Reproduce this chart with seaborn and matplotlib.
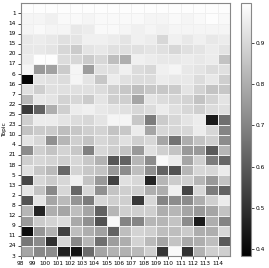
import numpy as np
import pandas as pd
import seaborn as sns
import matplotlib
matplotlib.use("Agg")
import matplotlib.pyplot as plt

# topic labels top to bottom, columns left to right
topics = ['1', '14', '19', '15', '20', '17', '6', '16', '7', '22', '25', '23', '10',
          '4', '21', '18', '5', '13', '2', '8', '12', '9', '11', '24', '3']
cols = ['98', '99', '100', '101', '102', '103', '104', '105', '106', '107', '108',
        '109', '110', '111', '112', '113', '114']

vals = [
    [0.99, 0.99, 0.99, 0.99, 0.99, 0.99, 0.99, 0.99, 0.99, 0.99, 0.99, 0.99, 0.99, 0.99, 0.99, 0.99, 0.99],
    [0.97, 0.97, 0.96, 0.98, 0.98, 0.97, 0.98, 0.98, 0.98, 0.98, 0.97, 0.97, 0.98, 0.97, 0.98, 0.99, 0.98],
    [0.97, 0.98, 0.97, 0.97, 0.94, 0.95, 0.98, 0.98, 0.97, 0.96, 0.97, 0.96, 0.97, 0.97, 0.97, 0.97, 0.97],
    [0.94, 0.95, 0.94, 0.92, 0.93, 0.96, 0.96, 0.95, 0.93, 0.96, 0.95, 0.90, 0.96, 0.94, 0.96, 0.94, 0.95],
    [0.94, 0.94, 0.93, 0.90, 0.87, 0.93, 0.94, 0.92, 0.92, 0.92, 0.93, 0.92, 0.90, 0.92, 0.93, 0.95, 0.93],
    [0.95, 0.99, 0.99, 0.91, 0.90, 0.87, 0.90, 0.84, 0.80, 0.96, 0.95, 0.94, 0.94, 0.95, 0.94, 0.95, 0.85],
    [0.97, 0.75, 0.77, 0.87, 0.97, 0.76, 0.92, 0.92, 0.96, 0.91, 0.90, 0.96, 0.97, 0.94, 0.93, 0.91, 0.92],
    [0.39, 0.93, 0.92, 0.91, 0.97, 0.93, 0.86, 0.95, 0.92, 0.91, 0.91, 0.95, 0.94, 0.94, 0.91, 0.94, 0.88],
    [0.92, 0.88, 0.92, 0.92, 0.92, 0.92, 0.91, 0.88, 0.86, 0.84, 0.86, 0.86, 0.87, 0.93, 0.89, 0.85, 0.86],
    [0.83, 0.94, 0.93, 0.89, 0.90, 0.87, 0.93, 0.88, 0.88, 0.78, 0.93, 0.91, 0.90, 0.89, 0.85, 0.89, 0.93],
    [0.52, 0.62, 0.80, 0.88, 0.95, 0.96, 0.94, 0.93, 0.92, 0.90, 0.91, 0.95, 0.92, 0.90, 0.88, 0.91, 0.92],
    [0.88, 0.95, 0.95, 0.93, 0.91, 0.90, 0.93, 0.97, 0.97, 0.86, 0.68, 0.87, 0.90, 0.93, 0.95, 0.45, 0.65],
    [0.85, 0.87, 0.87, 0.84, 0.86, 0.88, 0.89, 0.85, 0.86, 0.95, 0.78, 0.90, 0.90, 0.90, 0.95, 0.90, 0.70],
    [0.93, 0.90, 0.73, 0.82, 0.88, 0.85, 0.90, 0.88, 0.92, 0.88, 0.90, 0.78, 0.66, 0.80, 0.85, 0.88, 0.72],
    [0.72, 0.88, 0.85, 0.89, 0.86, 0.69, 0.90, 0.88, 0.85, 0.75, 0.92, 0.88, 0.85, 0.75, 0.75, 0.60, 0.82],
    [0.88, 0.90, 0.89, 0.88, 0.90, 0.86, 0.81, 0.59, 0.62, 0.82, 0.72, 0.98, 0.95, 0.78, 0.88, 0.68, 0.63],
    [0.92, 0.86, 0.83, 0.63, 0.89, 0.86, 0.85, 0.75, 0.72, 0.84, 0.73, 0.62, 0.58, 0.82, 0.90, 0.90, 0.95],
    [0.55, 0.90, 0.87, 0.90, 0.96, 0.85, 0.75, 0.54, 0.92, 0.90, 0.47, 0.82, 0.87, 0.88, 0.82, 0.75, 0.85],
    [0.93, 0.85, 0.71, 0.90, 0.63, 0.90, 0.73, 0.85, 0.88, 0.88, 0.80, 0.80, 0.96, 0.55, 0.90, 0.68, 0.62],
    [0.58, 0.93, 0.78, 0.83, 0.74, 0.68, 0.90, 0.88, 0.88, 0.52, 0.90, 0.70, 0.72, 0.72, 0.80, 0.88, 0.95],
    [0.82, 0.47, 0.80, 0.78, 0.84, 0.78, 0.62, 0.82, 0.88, 0.88, 0.88, 0.80, 0.82, 0.78, 0.75, 0.78, 0.85],
    [0.75, 0.87, 0.89, 0.91, 0.79, 0.73, 0.58, 0.98, 0.70, 0.70, 0.82, 0.82, 0.85, 0.72, 0.45, 0.80, 0.70],
    [0.41, 0.74, 0.81, 0.54, 0.84, 0.80, 0.77, 0.62, 0.84, 0.89, 0.88, 0.84, 0.84, 0.87, 0.80, 0.80, 0.90],
    [0.67, 0.72, 0.50, 0.90, 0.71, 0.82, 0.65, 0.76, 0.80, 0.89, 0.83, 0.78, 0.85, 0.79, 0.80, 0.84, 0.60],
    [0.78, 0.71, 0.72, 0.46, 0.43, 0.64, 0.78, 0.81, 0.81, 0.83, 0.88, 0.51, 0.98, 0.50, 0.81, 0.88, 0.88],
]

df = pd.DataFrame(vals, index=topics, columns=cols)

fig = plt.figure(figsize=(2.69, 2.68), dpi=100)
ax = fig.add_axes([20.5 / 269, 12 / 268, 209.5 / 269, 252.7 / 268])
cax = fig.add_axes([241 / 269, 12 / 268, 10 / 269, 252.7 / 268])

sns.heatmap(df, ax=ax, cbar_ax=cax, cmap='gray', vmin=0.383, vmax=0.996,
            linewidths=0.4, linecolor='#f0f0f0')

fs = 4.2
# ticks sit on the cell edges (pcolor style)
ax.set_xticks(np.arange(len(cols)))
ax.set_xticklabels(cols, rotation=0, fontsize=fs)
ax.set_yticks(np.arange(len(topics)) + 1)
ax.set_yticklabels(topics, rotation=0, fontsize=fs)
ax.tick_params(length=2, width=0.5, pad=1.5)
ax.set_ylabel('Topic', fontsize=fs, labelpad=1)
ax.set_xlabel('')
for s in ax.spines.values():
    s.set_visible(True)
    s.set_color('#888888')
    s.set_linewidth(0.8)

cax.tick_params(labelsize=fs, length=2, width=0.5, pad=1.5)
cax.set_yticks([0.4, 0.5, 0.6, 0.7, 0.8, 0.9])
cb = ax.collections[0].colorbar
cb.outline.set_visible(True)
cb.outline.set_edgecolor('#888888')
cb.outline.set_linewidth(0.8)

fig.savefig('out.png', dpi=100)
